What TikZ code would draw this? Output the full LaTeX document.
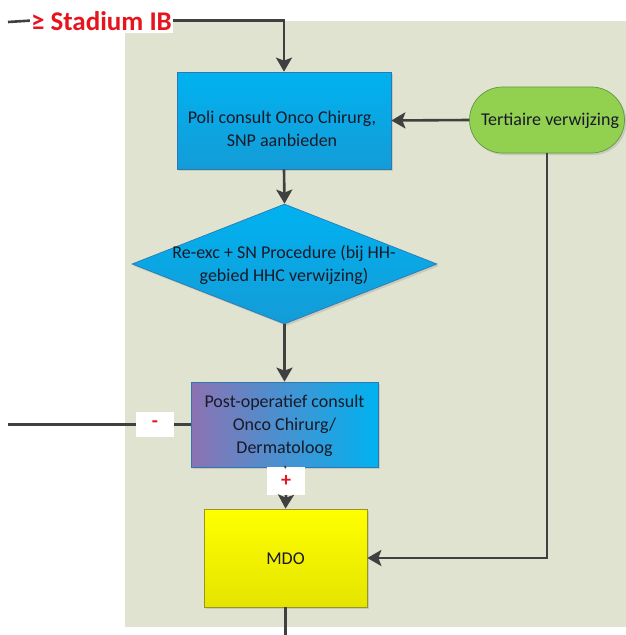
\documentclass[tikz,border=0pt]{standalone}
\usepackage{fontspec}
\setmainfont{Carlito}
\usetikzlibrary{arrows.meta,shapes.geometric,shapes.misc,shadows}
\definecolor{panel}{RGB}{223,227,207}
\definecolor{cyanA}{RGB}{0,178,240}
\definecolor{cyanB}{RGB}{20,156,215}
\definecolor{cyanE}{RGB}{45,120,180}
\definecolor{purp}{RGB}{140,114,178}
\definecolor{grn}{RGB}{146,208,80}
\definecolor{grnE}{RGB}{100,150,60}
\definecolor{yelA}{RGB}{255,255,0}
\definecolor{yelB}{RGB}{228,228,0}
\definecolor{yelE}{RGB}{150,150,40}
\definecolor{lnc}{RGB}{64,64,64}
\definecolor{redt}{RGB}{230,20,30}
\definecolor{txt}{RGB}{25,25,40}
\tikzset{
  conn/.style={draw=lnc, line width=2.6pt},
  arr/.style={conn, -{Stealth[length=14pt,width=16pt,inset=3pt]}},
  boxbase/.style={draw, line width=0.7pt, inner sep=0pt, drop shadow={opacity=0.25, shadow xshift=2pt, shadow yshift=-2pt}},
  bluebox/.style={boxbase, draw=cyanE, top color=cyanA, bottom color=cyanB},
  txtnode/.style={text=txt, align=center, font=\fontsize{18}{23}\selectfont, inner sep=0pt},
  sign/.style={fill=white, text=redt, font=\bfseries\fontsize{20}{22}\selectfont, inner sep=0pt}
}
\begin{document}
\begin{tikzpicture}[x=1pt,y=-1pt]
\useasboundingbox (0,0) rectangle (626,635);
\fill[panel] (125,21) rectangle (626,627);

% nodes
\node[bluebox, minimum width=214pt, minimum height=97pt] (poli) at (284,120.5) {};
\node[txtnode] (politxt) at (282,129) {Poli consult Onco Chirurg,\\SNP aanbieden};

\node[boxbase, rounded rectangle, draw=grnE, fill=grn, minimum width=155pt, minimum height=66pt] (tert) at (547,120) {};
\node[txtnode] (terttxt) at (550,121) {Tertiaire verwijzing};

\node[bluebox, diamond, minimum width=305pt, minimum height=120pt] (dia) at (284.5,264) {};
\node[txtnode] (diatxt) at (284,265) {Re-exc + SN Procedure (bij HH-\\gebied HHC verwijzing)};

\node[boxbase, draw=cyanE, left color=purp, right color=cyanA, minimum width=187pt, minimum height=85pt] (post) at (284.5,424.5) {};
\node[txtnode] (posttxt) at (284.5,426) {Post-operatief consult\\Onco Chirurg/\\Dermatoloog};

\node[boxbase, draw=yelE, top color=yelA, bottom color=yelB, minimum width=163pt, minimum height=98pt] (mdo) at (285.5,558) {};
\node[txtnode] (mdotxt) at (285.5,559) {MDO};

\node[fill=white, text=redt, font=\bfseries\fontsize{27}{30}\selectfont, inner xsep=1pt, inner ysep=3pt, anchor=base east] (stad) at (173,30) {≥ Stadium IB};

\node[sign, minimum width=38pt, minimum height=25pt] (minus) at (155,424.5) {-};
\node[sign, minimum width=38pt, minimum height=28pt] (plus) at (286,481) {+};

\coordinate (instart) at (8,22);
\coordinate (minusend) at (8,424.5);
\coordinate (outend) at (285.5,635);

% connectors
\draw[conn] (instart) -- (stad.west);
\draw[arr] (stad.east) -| (poli.north);
\draw[arr] (poli.south) -- (dia.north);
\draw[arr] (tert.west) -- (poli.east);
\draw[arr] (dia.south) -- (post.north);
\draw[conn] (minusend) -- (minus.west);
\draw[conn] (minus.east) -- (post.west);
\draw[conn] (post.south) -- (plus.north);
\draw[arr] (plus.south) -- (mdo.north);
\draw[arr] (tert.south) |- (mdo.east);
\draw[conn] (mdo.south) -- (outend);
\end{tikzpicture}
\end{document}
